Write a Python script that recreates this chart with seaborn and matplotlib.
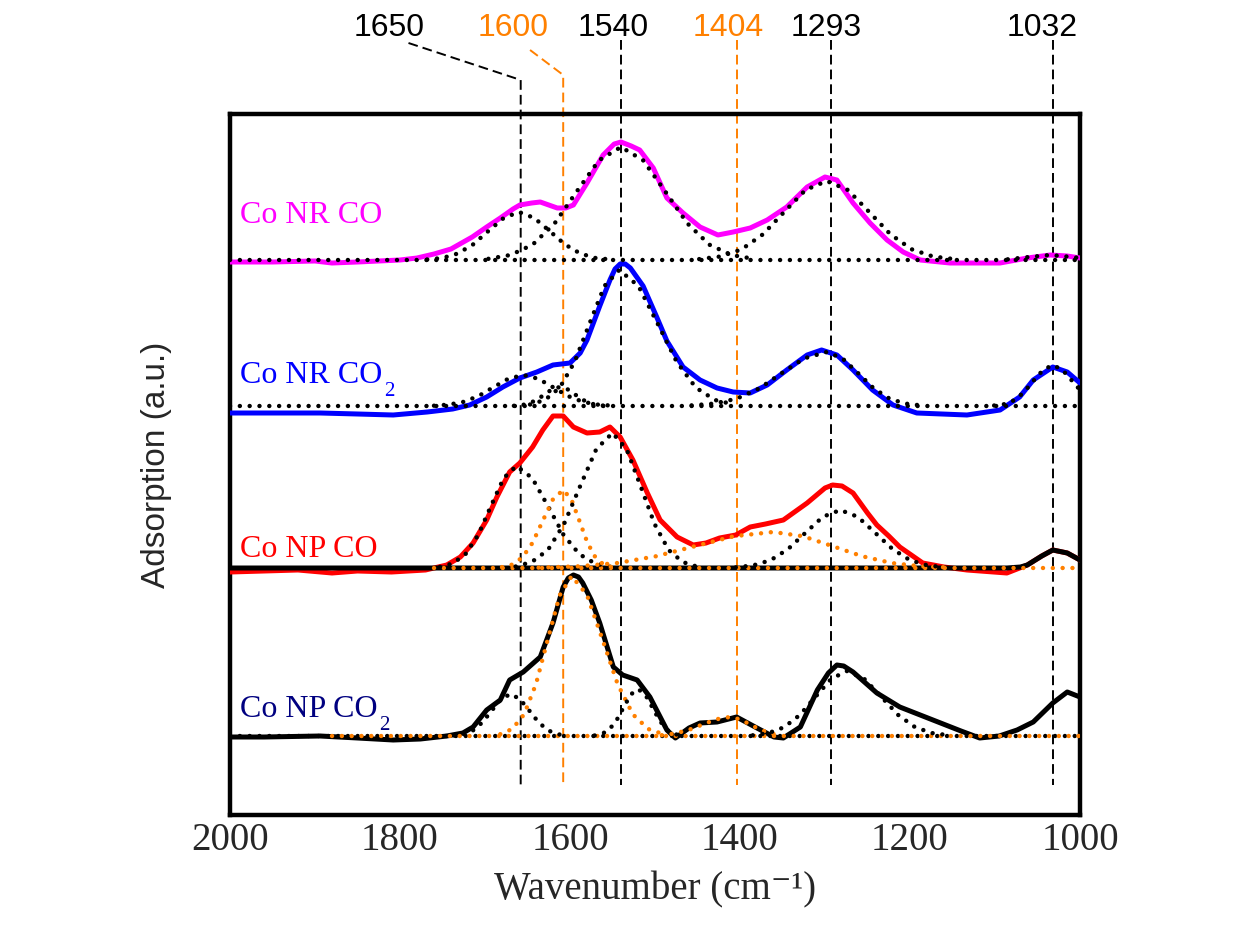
import numpy as np
import pandas as pd
import matplotlib
matplotlib.use("Agg")
import matplotlib.pyplot as plt
from matplotlib.transforms import offset_copy
import seaborn as sns

# ---------------- data (wavenumber in cm-1, intensity in a.u. above each baseline) ----------------
NR_CO_WN = [2000,1950,1900,1880,1850,1800,1780,1760,1740,1715,1698,1682,1667,1659,1645,1635,1625,1615,1605,1596,
            1580,1561,1548,1540,1528,1518,1502,1486,1467,1447,1426,1408,1388,1368,1345,1321,1300,1286,1267,1247,
            1227,1208,1188,1153,1094,1062,1035,1015,1000]
NR_CO_Y = [-0.02,-0.02,-0.01,-0.03,-0.02,0.0,0.02,0.06,0.11,0.23,0.33,0.42,0.51,0.55,0.57,0.58,0.55,0.52,0.52,0.55,
           0.77,1.05,1.16,1.18,1.14,1.10,0.92,0.62,0.47,0.33,0.25,0.28,0.32,0.40,0.53,0.73,0.83,0.80,0.57,0.37,
           0.20,0.08,0.0,-0.03,-0.03,0.02,0.05,0.04,0.02]

NR_CO2_WN = [2000,1894,1850,1808,1768,1738,1718,1698,1679,1659,1639,1620,1600,1588,1580,1565,1553,1547,1541,1535,
             1529,1514,1498,1486,1467,1447,1427,1408,1388,1368,1345,1321,1304,1286,1267,1244,1220,1192,1133,1094,
             1071,1055,1032,1015,1000]
NR_CO2_Y = [-0.07,-0.07,-0.08,-0.09,-0.06,-0.03,0.01,0.09,0.19,0.28,0.34,0.41,0.43,0.53,0.66,1.00,1.26,1.37,1.42,1.42,
            1.38,1.20,0.89,0.65,0.39,0.26,0.18,0.14,0.13,0.21,0.36,0.51,0.56,0.51,0.36,0.16,0.01,-0.07,-0.09,-0.04,
            0.09,0.26,0.39,0.34,0.23]

NP_CO_WN = [2000,1960,1920,1880,1850,1810,1770,1745,1729,1714,1698,1686,1671,1659,1644,1632,1620,1608,1596,1580,
            1565,1553,1541,1526,1509,1494,1474,1455,1440,1424,1405,1388,1370,1349,1321,1300,1291,1280,1267,1250,
            1239,1225,1212,1185,1160,1133,1086,1062,1045,1032,1015,1000]
NP_CO_Y = [-0.04,-0.03,-0.02,-0.05,-0.03,-0.04,-0.02,0.03,0.11,0.25,0.48,0.71,0.96,1.05,1.21,1.38,1.52,1.52,1.41,1.35,
           1.36,1.41,1.31,1.08,0.75,0.48,0.31,0.23,0.25,0.30,0.33,0.41,0.44,0.48,0.65,0.80,0.83,0.82,0.75,0.55,
           0.43,0.32,0.21,0.05,0.01,-0.02,-0.05,0.03,0.12,0.18,0.15,0.08]
NP_CO_FIT_WN = [2000,1100,1086,1070,1062,1045,1032,1015,1000]
NP_CO_FIT_Y = [0.0,0.0,0.0,0.01,0.03,0.12,0.18,0.15,0.08]

NP_CO2_WN = [2000,1960,1894,1850,1808,1776,1745,1726,1714,1698,1682,1671,1655,1635,1620,1608,1602,1596,1590,1585,
             1575,1565,1549,1538,1521,1506,1486,1476,1460,1447,1427,1404,1380,1360,1349,1329,1309,1296,1286,1278,
             1267,1239,1212,1173,1140,1118,1095,1074,1055,1032,1015,1000]
NP_CO2_Y = [-0.01,-0.01,0.0,-0.02,-0.04,-0.03,0.0,0.03,0.09,0.26,0.36,0.56,0.64,0.79,1.13,1.49,1.58,1.61,1.59,1.53,
            1.36,1.13,0.69,0.61,0.56,0.39,0.06,-0.02,0.08,0.13,0.14,0.19,0.08,-0.01,-0.02,0.09,0.46,0.63,0.71,0.70,
            0.64,0.43,0.29,0.16,0.05,-0.02,0.0,0.06,0.14,0.33,0.44,0.39]

# fitted component peaks (dotted)
NR_CO_P1_WN = [1768,1750,1732,1714,1696,1678,1660,1642,1624,1606,1588,1570,1552]
NR_CO_P1_Y = [0.005,0.02,0.065,0.156,0.29,0.42,0.48,0.42,0.29,0.156,0.065,0.02,0.005]
NR_CO_P2_WN = [1696,1670,1644,1618,1592,1566,1540,1514,1488,1462,1436,1410,1384]
NR_CO_P2_Y = [0.012,0.05,0.153,0.367,0.686,0.997,1.13,0.997,0.686,0.367,0.153,0.05,0.012]
NR_CO_P3_WN = [1448,1423,1398,1373,1348,1323,1298,1273,1248,1223,1198,1173,1148]
NR_CO_P3_Y = [0.009,0.035,0.107,0.257,0.48,0.70,0.79,0.70,0.48,0.257,0.107,0.035,0.009]
NR_CO_P4_WN = [1085,1060,1035,1010,1000]
NR_CO_P4_Y = [0.007,0.03,0.05,0.03,0.019]

NR_CO2_P1_WN = [1760,1742.5,1725,1707.5,1690,1672.5,1655,1637.5,1620,1602.5,1585,1567.5,1550]
NR_CO2_P1_Y = [0.003,0.014,0.042,0.10,0.188,0.273,0.31,0.273,0.188,0.10,0.042,0.014,0.003]
NR_CO2_P2_WN = [1666,1657,1648,1639,1630,1621,1612,1603,1594,1585,1576,1567,1558]
NR_CO2_P2_Y = [0.002,0.008,0.026,0.062,0.115,0.168,0.19,0.168,0.115,0.062,0.026,0.008,0.002]
NR_CO2_P3_WN = [1647,1629.5,1612,1594.5,1577,1559.5,1542,1519.5,1497,1474.5,1452,1429.5,1407]
NR_CO2_P3_Y = [0.015,0.06,0.184,0.442,0.825,1.20,1.36,1.20,0.825,0.442,0.184,0.06,0.015]
NR_CO2_P4_WN = [1457,1430.5,1404,1377.5,1351,1324.5,1298,1279.5,1261,1242.5,1224,1205.5,1187]
NR_CO2_P4_Y = [0.006,0.024,0.073,0.175,0.328,0.476,0.54,0.476,0.328,0.175,0.073,0.024,0.006]
NR_CO2_P5_WN = [1101,1089.5,1078,1066.5,1055,1043.5,1032,1020.5,1009,1000]
NR_CO2_P5_Y = [0.005,0.018,0.055,0.133,0.249,0.36,0.41,0.36,0.249,0.16]

NP_CO_P1_WN = [1753,1738,1723,1708,1693,1678,1663,1644.5,1626,1607.5,1589,1570.5,1552]
NP_CO_P1_Y = [0.011,0.045,0.138,0.33,0.62,0.90,1.02,0.90,0.62,0.33,0.138,0.045,0.011]
NP_CO_P2_WN = [1680,1668,1656,1644,1632,1620,1608,1598.5,1589,1579.5,1570,1560.5,1551]
NP_CO_P2_Y = [0.009,0.034,0.105,0.253,0.473,0.688,0.78,0.688,0.473,0.253,0.105,0.034,0.009]
NP_CO_P3_WN = [1664,1645,1626,1607,1588,1569,1550,1533.5,1517,1500.5,1484,1467.5,1451]
NP_CO_P3_Y = [0.015,0.06,0.18,0.44,0.82,1.19,1.35,1.19,0.82,0.44,0.18,0.06,0.015]
NP_CO_P4_WN = [1637,1591,1545,1499,1453,1407,1361,1326,1291,1256,1221,1186,1151]
NP_CO_P4_Y = [0.004,0.016,0.049,0.117,0.218,0.318,0.36,0.318,0.218,0.117,0.049,0.016,0.004]
NP_CO_P5_WN = [1405,1384.5,1364,1343.5,1323,1302.5,1282,1261.5,1241,1220.5,1200,1179.5,1159]
NP_CO_P5_Y = [0.006,0.026,0.078,0.189,0.352,0.512,0.58,0.512,0.352,0.189,0.078,0.026,0.006]

NP_CO2_P1_WN = [1682,1668,1654,1640,1626,1612,1598,1580,1562,1544,1526,1508,1490]
NP_CO2_P1_Y = [0.018,0.07,0.216,0.52,0.97,1.41,1.60,1.41,0.97,0.52,0.216,0.07,0.018]
NP_CO2_P2_WN = [1736,1725,1714,1703,1692,1681,1670,1659,1648,1637,1626,1615,1604]
NP_CO2_P2_Y = [0.005,0.018,0.057,0.137,0.255,0.37,0.42,0.37,0.255,0.137,0.057,0.018,0.005]
NP_CO2_P3_WN = [1571,1562.5,1554,1545.5,1537,1528.5,1520,1511.5,1503,1494.5,1486,1477.5,1469]
NP_CO2_P3_Y = [0.005,0.02,0.063,0.153,0.285,0.415,0.47,0.415,0.285,0.153,0.063,0.02,0.005]
NP_CO2_P4_WN = [1492,1476,1460,1444,1428,1412,1400,1388,1376,1364,1352]
NP_CO2_P4_Y = [0.008,0.026,0.062,0.115,0.167,0.19,0.167,0.115,0.062,0.026,0.008]
NP_CO2_P5_WN = [1385,1366.5,1348,1329.5,1311,1292.5,1274,1254,1234,1214,1194,1174,1154]
NP_CO2_P5_Y = [0.007,0.029,0.088,0.211,0.394,0.573,0.65,0.573,0.394,0.211,0.088,0.029,0.007]

# baselines (vertical offsets of the stacked spectra, a.u.)
OFFSETS = [5.55, 4.09, 2.47, 0.79]
SPEC_LABELS = ["Co NR CO", "Co NR CO", "Co NP CO", "Co NP CO"]
SPEC_SUBS = ["", "2", "", "2"]
LINE_COLORS = ["#ff00ff", "#0000ff", "#ff0000", "#000000"]
LABEL_COLORS = ["#ff00ff", "#0000ff", "#ff0000", "#000080"]

# marker lines
MARK_WN = [1658, 1608, 1540, 1404, 1293, 1032]
MARK_TXT = ["1650", "1600", "1540", "1404", "1293", "1032"]
MARK_TXT_WN = [1813, 1667, 1549, 1414, 1299, 1044]
MARK_COLORS = ["#000000", "#ff8000", "#000000", "#ff8000", "#000000", "#000000"]

X_TICKS = [2000, 1800, 1600, 1400, 1200, 1000]

ORANGE = "#ff8000"

# ---------------- style ----------------
sns.set_style("white")
plt.rcParams["font.family"] = ["Liberation Serif", "DejaVu Serif"]

fig = plt.figure(figsize=(12.4, 9.51), dpi=100)
AX_TOP, AX_BOT = 114, 815
ax = fig.add_axes([230 / 1240, (951 - AX_BOT) / 951, 850 / 1240, (AX_BOT - AX_TOP) / 951])

DOT = (0, (0.01, 2.2))


def draw(wn, vals, off, color, dotted=False, lw=3.6, z=3):
    df = pd.DataFrame({"wn": wn, "v": np.asarray(vals, dtype=float) + off})
    kw = dict(linestyle=DOT, dash_capstyle="round") if dotted else dict(solid_capstyle="round",
                                                                          solid_joinstyle="round")
    sns.lineplot(data=df, x="wn", y="v", color=color, lw=(3.2 if dotted else lw), ax=ax,
                 estimator=None, sort=False, legend=False, zorder=z, **kw)


spectra = [(NR_CO_WN, NR_CO_Y), (NR_CO2_WN, NR_CO2_Y), (NP_CO_WN, NP_CO_Y), (NP_CO2_WN, NP_CO2_Y)]
for (wn, y), off, col in zip(spectra, OFFSETS, LINE_COLORS):
    draw(wn, y, off, col, z=3)

# solid black fitted envelope of Co NP CO (on top of red)
draw(NP_CO_FIT_WN, NP_CO_FIT_Y, OFFSETS[2], "#000000", z=4)

# dotted baselines
for off in (OFFSETS[0], OFFSETS[1], OFFSETS[3]):
    draw([2000, 1000], [0, 0], off, "#000000", dotted=True, z=5)
draw([1760, 1000], [0, 0], OFFSETS[2], ORANGE, dotted=True, z=5)
draw([1880, 1000], [0, 0], OFFSETS[3], ORANGE, dotted=True, z=5)

components = [
    (NR_CO_P1_WN, NR_CO_P1_Y, 0, "#000000"), (NR_CO_P2_WN, NR_CO_P2_Y, 0, "#000000"),
    (NR_CO_P3_WN, NR_CO_P3_Y, 0, "#000000"), (NR_CO_P4_WN, NR_CO_P4_Y, 0, "#000000"),
    (NR_CO2_P1_WN, NR_CO2_P1_Y, 1, "#000000"), (NR_CO2_P2_WN, NR_CO2_P2_Y, 1, "#000000"),
    (NR_CO2_P3_WN, NR_CO2_P3_Y, 1, "#000000"), (NR_CO2_P4_WN, NR_CO2_P4_Y, 1, "#000000"),
    (NR_CO2_P5_WN, NR_CO2_P5_Y, 1, "#000000"),
    (NP_CO_P1_WN, NP_CO_P1_Y, 2, "#000000"), (NP_CO_P2_WN, NP_CO_P2_Y, 2, ORANGE),
    (NP_CO_P3_WN, NP_CO_P3_Y, 2, "#000000"), (NP_CO_P4_WN, NP_CO_P4_Y, 2, ORANGE),
    (NP_CO_P5_WN, NP_CO_P5_Y, 2, "#000000"),
    (NP_CO2_P1_WN, NP_CO2_P1_Y, 3, ORANGE), (NP_CO2_P2_WN, NP_CO2_P2_Y, 3, "#000000"),
    (NP_CO2_P3_WN, NP_CO2_P3_Y, 3, "#000000"), (NP_CO2_P4_WN, NP_CO2_P4_Y, 3, ORANGE),
    (NP_CO2_P5_WN, NP_CO2_P5_Y, 3, "#000000"),
]
for wn, y, idx, col in components:
    draw(wn, y, OFFSETS[idx], col, dotted=True, z=6)

# axes
ax.set_xlim(2000, 1000)
ax.set_ylim(0, (AX_BOT - AX_TOP) / 100)
ax.set_xticks(X_TICKS)
ax.set_xticklabels([str(t) for t in X_TICKS])
ax.set_yticks([])
ax.tick_params(axis="x", length=0, pad=5, labelsize=28)
ax.set_xlabel("Wavenumber (cm\u207b\u00b9)", fontsize=28, labelpad=9)
ax.set_ylabel("Adsorption (a.u.)", fontsize=24, family="Liberation Sans")
ax.yaxis.set_label_coords(-0.068, 0.5)
for s in ax.spines.values():
    s.set_linewidth(3.2)
    s.set_color("black")
    s.set_visible(True)
ax.grid(False)

# spectrum labels (Origin-style low subscript)
LABEL_Y = [5.92, 4.32, 2.58, 0.98]
fig.canvas.draw()
renderer = fig.canvas.get_renderer()
for txt, sub, ly, col in zip(SPEC_LABELS, SPEC_SUBS, LABEL_Y, LABEL_COLORS):
    t = ax.text(1988, ly, txt, color=col, fontsize=23, va="baseline", ha="left", zorder=7)
    if sub:
        bb = t.get_window_extent(renderer=renderer)
        xd, _ = ax.transData.inverted().transform((bb.x1, bb.y0))
        ax.text(xd, ly, sub, color=col, fontsize=15, va="baseline", ha="left", zorder=7,
                transform=offset_copy(ax.transData, fig=fig, x=1.0, y=-9.5, units="points"))

# marker dashed lines and labels above the frame
Y_LOW, Y_HIGH, Y_TXT = 0.30, 7.75, 7.87
DASH = (0, (5, 2.6))
for wn, txt, twn, col in zip(MARK_WN, MARK_TXT, MARK_TXT_WN, MARK_COLORS):
    if txt == "1650":
        xs, ys = [1790, wn, wn], [7.72, 7.35, Y_LOW]
    elif txt == "1600":
        xs, ys = [1647, wn, wn], [7.65, 7.40, Y_LOW]
    else:
        xs, ys = [wn, wn], [Y_HIGH, Y_LOW]
    ax.plot(xs, ys, color=col, lw=1.4, linestyle=DASH, clip_on=False, zorder=2)
    ax.text(twn, Y_TXT, txt, color=col, fontsize=23, ha="center", va="center",
            family="Liberation Sans", clip_on=False)

fig.savefig("out.png", dpi=100, facecolor="white")
